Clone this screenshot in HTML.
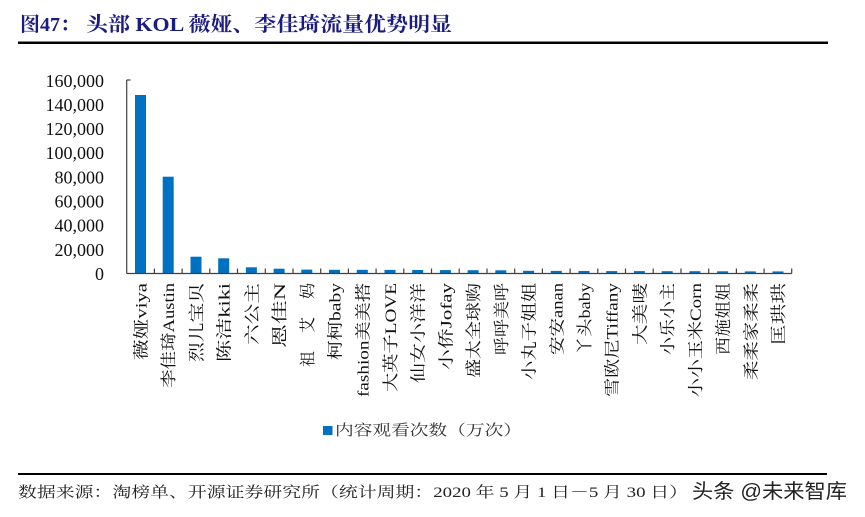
<!DOCTYPE html>
<html>
<head>
<meta charset="utf-8">
<style>
html,body{margin:0;padding:0;background:#fff;}
svg{display:block;}
</style>
</head>
<body>
<svg width="865" height="517" viewBox="0 0 865 517" xmlns="http://www.w3.org/2000/svg">
<rect width="865" height="517" fill="#fff"/>
<!-- Title -->
<text x="20" y="31" font-family="'Liberation Serif','Noto Serif CJK SC',serif" font-size="20" font-weight="bold" fill="#1c1c80">图47：</text>
<text x="86" y="31" font-family="'Liberation Serif','Noto Serif CJK SC',serif" font-size="20" font-weight="bold" fill="#1c1c80" textLength="366" lengthAdjust="spacingAndGlyphs">头部 KOL 薇娅、李佳琦流量优势明显</text>
<rect x="18" y="41.5" width="810" height="2.5" fill="#000"/>

<!-- Y axis labels -->
<g font-family="'Liberation Serif',serif" font-size="18" fill="#111" text-anchor="end">
<text x="104" y="87">160,000</text>
<text x="104" y="111">140,000</text>
<text x="104" y="135">120,000</text>
<text x="104" y="159">100,000</text>
<text x="104" y="183.5">80,000</text>
<text x="104" y="207.5">60,000</text>
<text x="104" y="231.5">40,000</text>
<text x="104" y="256">20,000</text>
<text x="104" y="280">0</text>
</g>

<!-- Bars -->
<g fill="#0070C0">
<rect x="135.0" y="95.0" width="11" height="178.5"/>
<rect x="162.7" y="176.7" width="11" height="96.8"/>
<rect x="190.5" y="256.7" width="11" height="16.8"/>
<rect x="218.2" y="258.3" width="11" height="15.2"/>
<rect x="245.9" y="267.3" width="11" height="6.2"/>
<rect x="273.6" y="268.7" width="11" height="4.8"/>
<rect x="301.3" y="269.6" width="11" height="3.9"/>
<rect x="329.0" y="269.8" width="11" height="3.7"/>
<rect x="356.8" y="269.8" width="11" height="3.7"/>
<rect x="384.5" y="269.9" width="11" height="3.6"/>
<rect x="412.2" y="270.0" width="11" height="3.5"/>
<rect x="439.9" y="270.1" width="11" height="3.4"/>
<rect x="467.6" y="270.2" width="11" height="3.3"/>
<rect x="495.3" y="270.3" width="11" height="3.2"/>
<rect x="523.1" y="270.8" width="11" height="2.7"/>
<rect x="550.8" y="270.9" width="11" height="2.6"/>
<rect x="578.5" y="271.0" width="11" height="2.5"/>
<rect x="606.2" y="271.1" width="11" height="2.4"/>
<rect x="633.9" y="271.1" width="11" height="2.4"/>
<rect x="661.7" y="271.2" width="11" height="2.3"/>
<rect x="689.4" y="271.2" width="11" height="2.3"/>
<rect x="717.1" y="271.3" width="11" height="2.2"/>
<rect x="744.8" y="271.4" width="11" height="2.1"/>
<rect x="772.5" y="271.4" width="11" height="2.1"/>
</g>

<!-- Axes -->
<g stroke="#404040" stroke-width="1.2" fill="none">
<line x1="126.7" y1="80" x2="126.7" y2="273.5"/>
<line x1="126.7" y1="80" x2="130.5" y2="80"/>
<line x1="126.7" y1="273.5" x2="791.7" y2="273.5"/>
<line x1="154.4" y1="268.5" x2="154.4" y2="273.5"/>
<line x1="182.1" y1="268.5" x2="182.1" y2="273.5"/>
<line x1="209.8" y1="268.5" x2="209.8" y2="273.5"/>
<line x1="237.5" y1="268.5" x2="237.5" y2="273.5"/>
<line x1="265.3" y1="268.5" x2="265.3" y2="273.5"/>
<line x1="293.0" y1="268.5" x2="293.0" y2="273.5"/>
<line x1="320.7" y1="268.5" x2="320.7" y2="273.5"/>
<line x1="348.4" y1="268.5" x2="348.4" y2="273.5"/>
<line x1="376.1" y1="268.5" x2="376.1" y2="273.5"/>
<line x1="403.8" y1="268.5" x2="403.8" y2="273.5"/>
<line x1="431.5" y1="268.5" x2="431.5" y2="273.5"/>
<line x1="459.2" y1="268.5" x2="459.2" y2="273.5"/>
<line x1="487.0" y1="268.5" x2="487.0" y2="273.5"/>
<line x1="514.7" y1="268.5" x2="514.7" y2="273.5"/>
<line x1="542.4" y1="268.5" x2="542.4" y2="273.5"/>
<line x1="570.1" y1="268.5" x2="570.1" y2="273.5"/>
<line x1="597.8" y1="268.5" x2="597.8" y2="273.5"/>
<line x1="625.5" y1="268.5" x2="625.5" y2="273.5"/>
<line x1="653.2" y1="268.5" x2="653.2" y2="273.5"/>
<line x1="681.0" y1="268.5" x2="681.0" y2="273.5"/>
<line x1="708.7" y1="268.5" x2="708.7" y2="273.5"/>
<line x1="736.4" y1="268.5" x2="736.4" y2="273.5"/>
<line x1="764.1" y1="268.5" x2="764.1" y2="273.5"/>
<line x1="791.7" y1="268.5" x2="791.7" y2="273.5"/>
</g>

<!-- X labels (rotated) -->
<g font-family="'Liberation Serif','Noto Serif CJK SC',serif" font-size="16" fill="#111" text-anchor="end">
<text transform="translate(146.5,283) rotate(-90)" textLength="77" lengthAdjust="spacingAndGlyphs">薇娅viya</text>
<text transform="translate(174.2,283) rotate(-90)" textLength="105" lengthAdjust="spacingAndGlyphs">李佳琦Austin</text>
<text transform="translate(202.0,283) rotate(-90)" textLength="79" lengthAdjust="spacingAndGlyphs">烈儿宝贝</text>
<text transform="translate(229.7,283) rotate(-90)" textLength="79" lengthAdjust="spacingAndGlyphs">陈洁kiki</text>
<text transform="translate(257.4,283) rotate(-90)" textLength="62" lengthAdjust="spacingAndGlyphs">六公主</text>
<text transform="translate(285.1,283) rotate(-90)" textLength="65" lengthAdjust="spacingAndGlyphs">恩佳N</text>
<text transform="translate(312.8,283) rotate(-90)" textLength="84" lengthAdjust="spacing">祖艾妈</text>
<text transform="translate(340.5,283) rotate(-90)" textLength="77" lengthAdjust="spacingAndGlyphs">柯柯baby</text>
<text transform="translate(368.3,283) rotate(-90)" textLength="114" lengthAdjust="spacingAndGlyphs">fashion美美搭</text>
<text transform="translate(396.0,283) rotate(-90)" textLength="109" lengthAdjust="spacingAndGlyphs">大英子LOVE</text>
<text transform="translate(423.7,283) rotate(-90)" textLength="100" lengthAdjust="spacingAndGlyphs">仙女小洋洋</text>
<text transform="translate(451.4,283) rotate(-90)" textLength="87" lengthAdjust="spacingAndGlyphs">小侨Jofay</text>
<text transform="translate(479.1,283) rotate(-90)" textLength="95" lengthAdjust="spacingAndGlyphs">盛太全球购</text>
<text transform="translate(506.8,283) rotate(-90)" textLength="72" lengthAdjust="spacingAndGlyphs">呼呼美呼</text>
<text transform="translate(534.6,283) rotate(-90)" textLength="97" lengthAdjust="spacingAndGlyphs">小丸子姐姐</text>
<text transform="translate(562.3,283) rotate(-90)" textLength="72" lengthAdjust="spacingAndGlyphs">安安anan</text>
<text transform="translate(590.0,283) rotate(-90)" textLength="72" lengthAdjust="spacingAndGlyphs">丫头baby</text>
<text transform="translate(617.7,283) rotate(-90)" textLength="114" lengthAdjust="spacingAndGlyphs">雪欧尼Tiffany</text>
<text transform="translate(645.4,283) rotate(-90)" textLength="62" lengthAdjust="spacingAndGlyphs">大美唛</text>
<text transform="translate(673.2,283) rotate(-90)" textLength="72" lengthAdjust="spacingAndGlyphs">小乐小主</text>
<text transform="translate(700.9,283) rotate(-90)" textLength="114" lengthAdjust="spacingAndGlyphs">小小玉米Corn</text>
<text transform="translate(728.6,283) rotate(-90)" textLength="72" lengthAdjust="spacingAndGlyphs">西施姐姐</text>
<text transform="translate(756.3,283) rotate(-90)" textLength="97" lengthAdjust="spacingAndGlyphs">柔柔家柔柔</text>
<text transform="translate(784.0,283) rotate(-90)" textLength="62" lengthAdjust="spacingAndGlyphs">匡珙珙</text>
</g>

<!-- Legend -->
<rect x="323" y="426" width="9.5" height="9" fill="#0070C0"/>
<text x="335" y="435" font-family="'Liberation Serif','Noto Serif CJK SC',serif" font-size="15" fill="#333" textLength="187" lengthAdjust="spacingAndGlyphs">内容观看次数（万次）</text>

<!-- Source -->
<rect x="18" y="473" width="809" height="2" fill="#000"/>
<text x="18" y="497" font-family="'Liberation Serif','Noto Serif CJK SC',serif" font-size="15" fill="#222" textLength="670" lengthAdjust="spacingAndGlyphs">数据来源：淘榜单、开源证券研究所（统计周期：2020 年 5 月 1 日－5 月 30 日）</text>
<text x="692" y="498" font-family="'Liberation Sans','Noto Sans CJK SC',sans-serif" font-size="20" fill="#222" textLength="155" lengthAdjust="spacingAndGlyphs">头条 @未来智库</text>
</svg>
</body>
</html>
